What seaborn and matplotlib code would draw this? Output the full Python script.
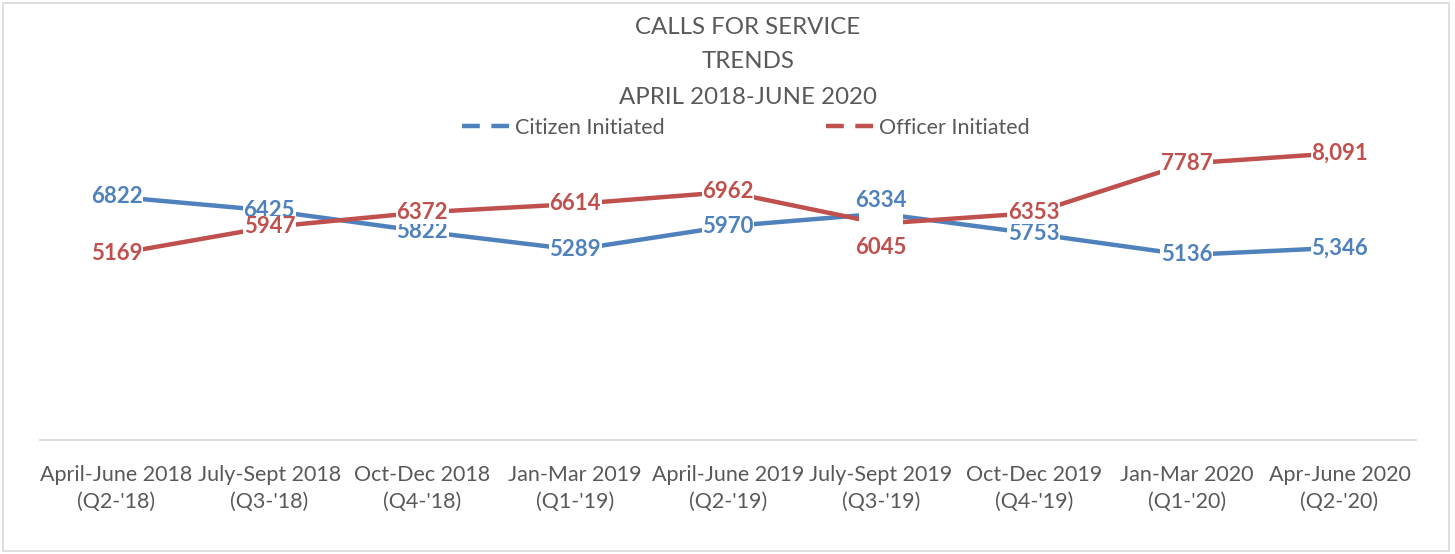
import numpy as np
import pandas as pd
import seaborn as sns
import matplotlib.pyplot as plt
from matplotlib.lines import Line2D
from matplotlib.patches import Rectangle

quarters = ["April-June 2018\n(Q2-'18)", "July-Sept 2018\n(Q3-'18)", "Oct-Dec 2018\n(Q4-'18)",
            "Jan-Mar 2019\n(Q1-'19)", "April-June 2019\n(Q2-'19)", "July-Sept 2019\n(Q3-'19)",
            "Oct-Dec 2019\n(Q4-'19)", "Jan-Mar 2020\n(Q1-'20)", "Apr-June 2020\n(Q2-'20)"]
citizen = [6822, 6425, 5822, 5289, 5970, 6334, 5753, 5136, 5346]
officer = [5169, 5947, 6372, 6614, 6962, 6045, 6353, 7787, 8091]
citizen_labels = ["6822", "6425", "5822", "5289", "5970", "6334", "5753", "5136", "5,346"]
officer_labels = ["5169", "5947", "6372", "6614", "6962", "6045", "6353", "7787", "8,091"]

blue = "#4F81BD"
red = "#C0504D"
grey = "#595959"

sns.set_theme(style="white")
plt.rcParams['font.family'] = ['Lato', 'DejaVu Sans']

df = pd.DataFrame({
  "x": list(range(len(quarters))) * 2,
  "calls": citizen + officer,
  "series": ["Citizen Initiated"] * len(citizen) + ["Officer Initiated"] * len(officer),
})

fig = plt.figure(figsize=(14.55, 5.54), dpi=100)
ax = fig.add_axes([40 / 1455, 1 - 440 / 554, 1376 / 1455, 300 / 554])

sns.lineplot(data=df, x="x", y="calls", hue="series", palette=[blue, red],
             linewidth=3.2, ax=ax, legend=False, sort=False)

ax.set_xlim(-0.5, len(quarters) - 0.5)
ax.set_ylim(-230, 8470)
ax.set_yticks([])
ax.set_xticks(range(len(quarters)))
ax.set_xticklabels(quarters, fontsize=15.5, color=grey, linespacing=1.45)
ax.tick_params(axis="x", length=0, pad=18)
ax.set_xlabel("")
ax.set_ylabel("")
for s in ["top", "left", "right"]:
  ax.spines[s].set_visible(False)
ax.spines["bottom"].set_color("#D9D9D9")
ax.spines["bottom"].set_linewidth(1.3)

lab = dict(fontsize=16, fontweight="bold", ha="center", va="center")
box = dict(facecolor="white", edgecolor="none", pad=0.5)
for i in range(len(quarters)):
  if i == 5:
    # blank gap where the two points meet, labels above and below
    mid = (citizen[i] + officer[i]) / 2
    ax.add_patch(Rectangle((i - 0.145, mid - 300), 0.29, 600, facecolor="white",
                           edgecolor="none", zorder=4))
    ax.text(i, citizen[i] + 380, citizen_labels[i], color=blue, zorder=5, **lab)
    ax.text(i, officer[i] - 700, officer_labels[i], color=red, zorder=5, **lab)
    continue
  ax.text(i, citizen[i], citizen_labels[i], color=blue, bbox=box, zorder=5, **lab)
  ax.text(i, officer[i], officer_labels[i], color=red, bbox=box, zorder=5, **lab)

handles = [Line2D([], [], color=blue, lw=3.2, dashes=(4, 2.6)),
           Line2D([], [], color=red, lw=3.2, dashes=(4, 2.6))]
fig.legend(handles, ["Citizen Initiated", "Officer Initiated"], loc="center",
           bbox_to_anchor=(746 / 1455, 1 - 128 / 554), ncol=2, frameon=False,
           fontsize=15.5, labelcolor=grey, handlelength=2.4, handletextpad=0.05,
           columnspacing=7.5)

title_lines = ["CALLS FOR SERVICE", "TRENDS", "APRIL 2018-JUNE 2020"]
for t, yp in zip(title_lines, [28, 62, 97]):
  fig.text(0.514, 1 - yp / 554, t, ha="center", va="center", fontsize=17.3, color=grey)

fig.patches.append(Rectangle((3 / 1455, 3 / 554), 1446 / 1455, 548 / 554, transform=fig.transFigure,
                             fill=False, edgecolor="#D9D9D9", linewidth=1.2))

fig.savefig("out.png", dpi=100)
